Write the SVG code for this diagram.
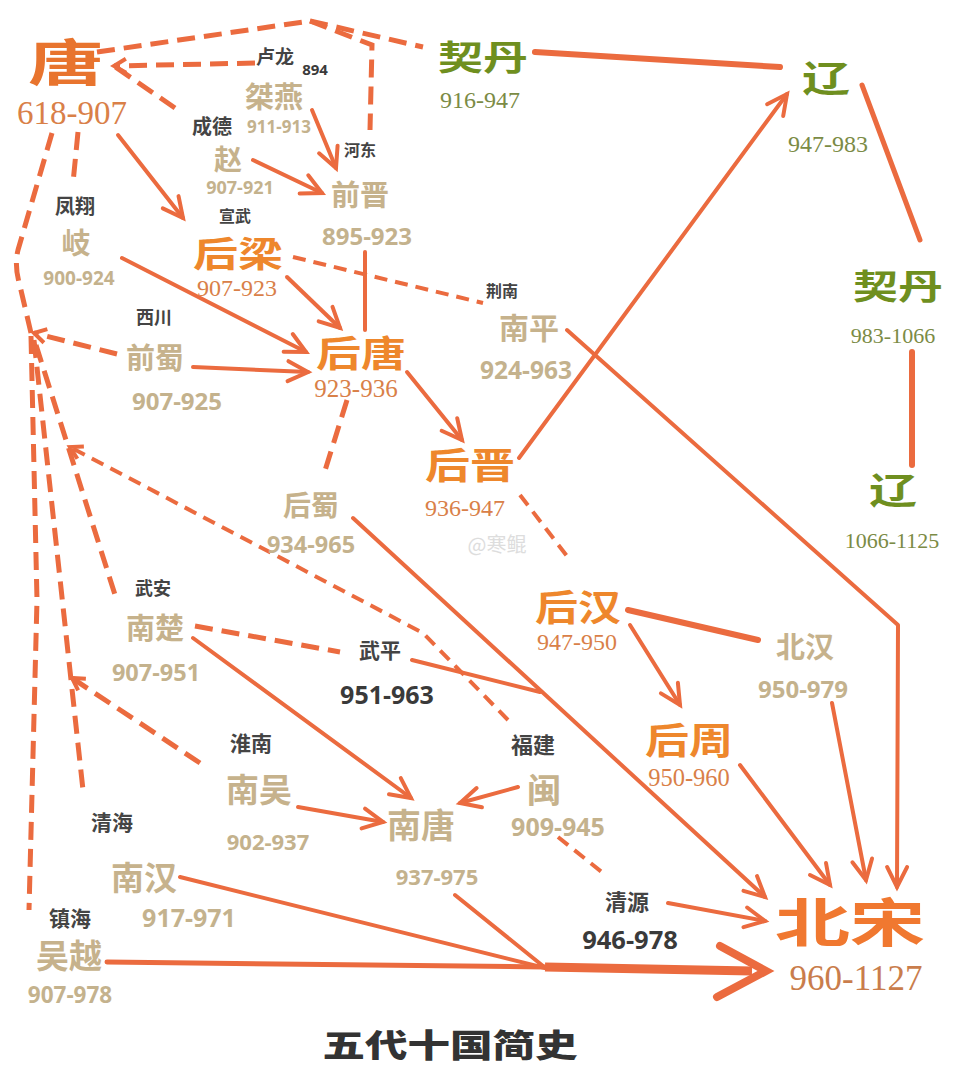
<svg xmlns="http://www.w3.org/2000/svg" width="959" height="1086" viewBox="0 0 959 1086">
<defs>
<style>
text{font-family:"Noto Sans CJK SC","Noto Sans",sans-serif;text-anchor:middle}
.ln{fill:none;stroke:#EB6B3F;stroke-width:4;stroke-linecap:round;stroke-linejoin:round}
.th{stroke-width:6}
.ds{fill:none;stroke:#EB6B3F;stroke-width:5;stroke-dasharray:18 9}
.dt{fill:none;stroke:#EB6B3F;stroke-width:4;stroke-dasharray:13 8}
.arr{marker-end:url(#ah)}
.chv{marker-end:url(#ch)}
.tang{fill:#E8742E;font-weight:700}
.org{fill:#EE872C;font-weight:700}
.od{fill:#D98048;font-family:"Liberation Serif","DejaVu Serif",serif}
.grn{fill:#6F8F1F;font-weight:700}
.gd{fill:#7B8B45;font-family:"Liberation Serif","DejaVu Serif",serif}
.tan{fill:#C6B28C;font-weight:700}
.td{fill:#C4B28D;font-weight:700;font-family:"Open Sans","Liberation Sans",sans-serif}
.dk{fill:#444444;font-weight:700}
.dkd{fill:#3A3A3A;font-weight:700;font-family:"Open Sans","Liberation Sans",sans-serif}
.song{fill:#F07830;font-weight:700}
.sd{fill:#C97D4C;font-family:"Liberation Serif","DejaVu Serif",serif}
.title{fill:#333333;font-weight:900}
</style>
<marker id="ah" viewBox="0 0 24 24" markerUnits="userSpaceOnUse" markerWidth="24" markerHeight="24" refX="22" refY="12" orient="auto" overflow="visible">
<path d="M2,2 L22,12 L2,22" fill="none" stroke="#EB6B3F" stroke-width="4" stroke-linecap="round" stroke-linejoin="miter"/>
</marker>
<marker id="ch" viewBox="0 0 16 16" markerUnits="userSpaceOnUse" markerWidth="16" markerHeight="16" refX="14" refY="8" orient="auto" overflow="visible">
<path d="M2,1 L14,8 L2,15" fill="none" stroke="#EB6B3F" stroke-width="4" stroke-linecap="butt" stroke-linejoin="miter"/>
</marker>
</defs>
<rect width="959" height="1086" fill="#FFFFFF"/>

<g id="connectors">
<path class="ds" d="M97,52 L310,21"/>
<path class="ds" d="M310,21 L423,47"/>
<path class="ds" d="M310,21 L372,45 L370,130"/>
<path class="ds chv" d="M255,63 L114,66"/>
<path class="ds" d="M175,108 L114,66"/>
<path class="ds" d="M52,133 L18,250 Q14,266 20,286 L31,333"/>
<path class="ds" d="M78,132 L73,183"/>
<path class="ds chv" d="M117,354 L34,333"/>
<path class="ds" d="M31,336 L37,600 L29,910"/>
<path class="ds" d="M34,340 L83,790"/>
<path class="ds" d="M36,345 L116,598"/>
<path class="dt chv" d="M508,720 L423,633 L260,547 L70,447"/>
<path class="ds chv" d="M200,763 L72,678"/>
<path class="ds" d="M195,626 L340,652"/>
<path class="dt" d="M293,257 L483,303"/>
<path class="ds" d="M347,400 L323,477"/>
<path class="dt" d="M520,495 L570,560"/>
<path class="dt" d="M558,837 L603,873"/>
<path class="ln arr" d="M118,135 L183,218"/>
<path class="ln arr" d="M312,110 L336,168"/>
<path class="ln arr" d="M253,160 L322,193"/>
<path class="ln" d="M365,252 L365,330"/>
<path class="ln arr" d="M287,277 L340,328"/>
<path class="ln arr" d="M122,258 L306,352"/>
<path class="ln arr" d="M193,367 L308,372"/>
<path class="ln arr" d="M407,372 L462,440"/>
<path class="ln arr" d="M519,458 L787,94"/>
<path class="ln th" d="M535,52 L780,67"/>
<path class="ln" d="M862,85 L920,240" style="stroke-width:5"/>
<path class="ln th" d="M912,352 L912,465"/>
<path class="ln arr" d="M567,330 L898,625 L897,887"/>
<path class="ln arr" d="M832,703 L866,880"/>
<path class="ln arr" d="M740,765 L830,885"/>
<path class="ln arr" d="M353,518 L765,897"/>
<path class="ln arr" d="M668,903 L765,921"/>
<path class="ln arr" d="M630,625 L680,705"/>
<path class="ln th" d="M628,610 L758,640"/>
<path class="ln arr" d="M193,638 L411,798"/>
<path class="ln arr" d="M298,807 L383,822"/>
<path class="ln arr" d="M518,787 L460,803"/>
<path class="ln" d="M412,660 L540,692"/>
<path class="ln" d="M180,877 L545,968"/>
<path class="ln" d="M455,895 L543,966"/>
<path class="ln" d="M107,962 L545,967" style="stroke-width:5"/>
<path class="ln" d="M545,967 L752,971" style="stroke-width:9;stroke-linecap:butt"/>
<path class="ln" d="M720,946 L766,971 L717,997" style="stroke-width:8;stroke-linejoin:miter"/>
</g>

<g id="n-tang"><text class="tang" x="66" y="81" font-size="50" textLength="76" lengthAdjust="spacingAndGlyphs">唐</text><text class="od" x="72" y="124" font-size="33">618-907</text></g>
<g id="n-jieyan"><text class="dk" x="275" y="64" font-size="19">卢龙</text><text class="dkd" x="315" y="75" font-size="15">894</text><text class="tan" x="274" y="108" font-size="29">桀燕</text><text class="td" x="279" y="133" font-size="17">911-913</text></g>
<g id="n-zhao"><text class="dk" x="212" y="134" font-size="20">成德</text><text class="tan" x="228" y="170" font-size="28">赵</text><text class="td" x="240" y="194" font-size="18">907-921</text></g>
<g id="n-qianjin"><text class="dk" x="360" y="156" font-size="16">河东</text><text class="tan" x="360" y="206" font-size="29">前晋</text><text class="td" x="367" y="245" font-size="24">895-923</text></g>
<g id="n-qi"><text class="dk" x="75" y="214" font-size="20">凤翔</text><text class="tan" x="76" y="254" font-size="29">岐</text><text class="td" x="79" y="285" font-size="19">900-924</text></g>
<g id="n-houliang"><text class="dk" x="235" y="222" font-size="16">宣武</text><text class="org" x="238" y="267" font-size="35" textLength="90" lengthAdjust="spacingAndGlyphs">后梁</text><text class="od" x="237" y="296" font-size="24">907-923</text></g>
<g id="n-qidan1"><text class="grn" x="483" y="70" font-size="34" textLength="90" lengthAdjust="spacingAndGlyphs">契丹</text><text class="gd" x="480" y="108" font-size="24">916-947</text></g>
<g id="n-liao1"><text class="grn" x="826" y="92" font-size="36" textLength="48" lengthAdjust="spacingAndGlyphs">辽</text><text class="gd" x="828" y="152" font-size="24">947-983</text></g>
<g id="n-qidan2"><text class="grn" x="898" y="299" font-size="34" textLength="90" lengthAdjust="spacingAndGlyphs">契丹</text><text class="gd" x="893" y="343" font-size="22">983-1066</text></g>
<g id="n-liao2"><text class="grn" x="893" y="504" font-size="36" textLength="48" lengthAdjust="spacingAndGlyphs">辽</text><text class="gd" x="892" y="548" font-size="22">1066-1125</text></g>
<g id="n-nanping"><text class="dk" x="502" y="297" font-size="16">荆南</text><text class="tan" x="529" y="339" font-size="30">南平</text><text class="td" x="526" y="379" font-size="24.5">924-963</text></g>
<g id="n-qianshu"><text class="dk" x="154" y="324" font-size="18">西川</text><text class="tan" x="155" y="369" font-size="29">前蜀</text><text class="td" x="177" y="410" font-size="24">907-925</text></g>
<g id="n-houtang"><text class="org" x="361" y="367" font-size="36" textLength="90" lengthAdjust="spacingAndGlyphs">后唐</text><text class="od" x="356" y="397" font-size="25">923-936</text></g>
<g id="n-houjin"><text class="org" x="470" y="479" font-size="36" textLength="90" lengthAdjust="spacingAndGlyphs">后晋</text><text class="od" x="465" y="516" font-size="24">936-947</text></g>
<g id="n-houshu"><text class="tan" x="311" y="516" font-size="28">后蜀</text><text class="td" x="311" y="553" font-size="23.5">934-965</text></g>
<g id="n-houhan"><text class="org" x="578" y="621" font-size="36" textLength="86" lengthAdjust="spacingAndGlyphs">后汉</text><text class="od" x="577" y="650" font-size="24">947-950</text></g>
<g id="n-beihan"><text class="tan" x="805" y="658" font-size="29">北汉</text><text class="td" x="803" y="698" font-size="24">950-979</text></g>
<g id="n-houzhou"><text class="org" x="689" y="754" font-size="36" textLength="88" lengthAdjust="spacingAndGlyphs">后周</text><text class="od" x="689" y="786" font-size="24.5">950-960</text></g>
<g id="n-nanchu"><text class="dk" x="153" y="595" font-size="18">武安</text><text class="tan" x="155" y="639" font-size="29">南楚</text><text class="td" x="156" y="681" font-size="23.5">907-951</text></g>
<g id="n-wuping"><text class="dk" x="380" y="658" font-size="21">武平</text><text class="dkd" x="387" y="704" font-size="25">951-963</text></g>
<g id="n-nanwu"><text class="dk" x="251" y="751" font-size="21">淮南</text><text class="tan" x="259" y="802" font-size="33">南吴</text><text class="td" x="268" y="850" font-size="22">902-937</text></g>
<g id="n-min"><text class="dk" x="533" y="753" font-size="22">福建</text><text class="tan" x="544" y="803" font-size="34">闽</text><text class="td" x="558" y="836" font-size="25">909-945</text></g>
<g id="n-nantang"><text class="tan" x="421" y="838" font-size="34">南唐</text><text class="td" x="437" y="885" font-size="22">937-975</text></g>
<g id="n-nanhan"><text class="dk" x="112" y="830" font-size="21">清海</text><text class="tan" x="144" y="890" font-size="33">南汉</text><text class="td" x="189" y="927" font-size="25">917-971</text></g>
<g id="n-wuyue"><text class="dk" x="70" y="926" font-size="21">镇海</text><text class="tan" x="69" y="968" font-size="33">吴越</text><text class="td" x="70" y="1003" font-size="22.5">907-978</text></g>
<g id="n-qingyuan"><text class="dk" x="627" y="910" font-size="22">清源</text><text class="dkd" x="630" y="949" font-size="25.5">946-978</text></g>
<g id="n-beisong"><text class="song" x="850" y="942" font-size="52" textLength="150" lengthAdjust="spacingAndGlyphs">北宋</text><text class="sd" x="856" y="990" font-size="35">960-1127</text></g>
<g id="title"><text class="title" x="450" y="1057" font-size="32" textLength="255" lengthAdjust="spacingAndGlyphs">五代十国简史</text></g>
<text x="497" y="552" font-size="20" fill="#DDDDDD">@寒鲲</text>
</svg>
